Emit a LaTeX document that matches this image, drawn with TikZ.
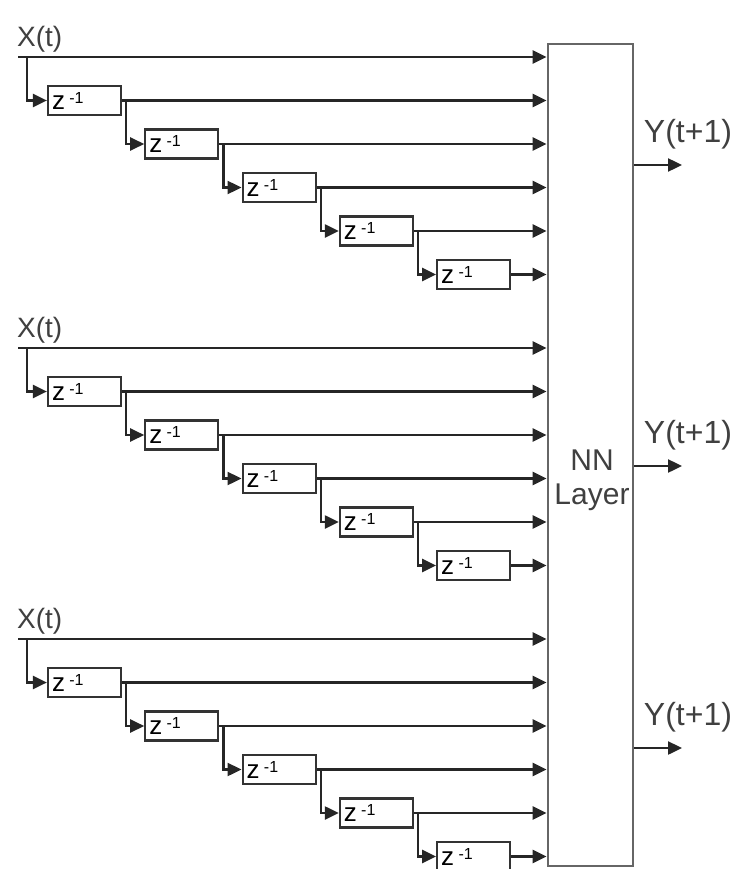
\documentclass[tikz,border=0pt]{standalone}
\usepackage{fontspec}
\setmainfont{Liberation Sans}
\usetikzlibrary{arrows.meta,positioning}
\newcommand{\zinv}{z\,\raisebox{6pt}{\fontsize{16}{16}\selectfont -1}}
\tikzset{
    >={Triangle[length=14pt,width=13pt]},
    wire/.style={draw=black!85, line width=2.4pt},
    delay/.style={
        rectangle,
        draw=black!80, line width=2.2pt,
        minimum width=73pt,
        minimum height=29pt,
        inner xsep=4pt, inner ysep=0pt,
        text width=65pt,
        align=left,
        font=\fontsize{26}{26}\selectfont
    },
    nnbox/.style={
        rectangle,
        draw=black!60, line width=2.8pt,
        minimum width=85pt,
        minimum height=822pt
    },
    nnlabel/.style={align=center, text=black!75, font=\fontsize{30}{34}\selectfont},
    inlabel/.style={anchor=south west, inner sep=0pt, text=black!75, font=\fontsize{28}{28}\selectfont},
    outlabel/.style={text=black!75, font=\fontsize{32}{32}\selectfont}
}
\begin{document}
\begin{tikzpicture}[x=1pt,y=-1pt]
    \useasboundingbox[fill=white] (0,0) rectangle (738,869);

    \node[nnbox] (nn) at (590.5,455) {};
    \node[nnlabel] (nnl) at (592,480) {NN\\Layer};

    % -- three tapped delay lines -- %
    \foreach \g/\y in {1/57,2/348,3/639}{
        \node[inlabel] (x\g) at (17,\y-5) {X(t)};
        \coordinate (in\g) at (18,\y);
        \coordinate (tap\g) at (27,\y);
        \draw[wire,->] (in\g) -- (in\g -| nn.west);
        \foreach \k in {1,...,5}{
            \node[delay] (d\g\k) at ({84.5+97.3*(\k-1)},{\y+43.5*\k}) {\zinv};
            \draw[wire,->] (d\g\k.east) -- (d\g\k.east -| nn.west);
        }
        \draw[wire,->] (tap\g) |- (d\g1.west);
        \foreach \k [evaluate=\k as \n using int(\k+1)] in {1,...,4}
            \draw[wire,->] ([xshift=4pt]d\g\k.east) |- (d\g\n.west);
    }

    % -- outputs -- %
    \foreach \o/\y in {1/165,2/466,3/748}{
        \coordinate (out\o) at (682,\y);
        \draw[wire,->] (out\o -| nn.east) -- (out\o);
        \node[outlabel] (y\o) at (688,\y-31) {Y(t+1)};
    }
\end{tikzpicture}
\end{document}
